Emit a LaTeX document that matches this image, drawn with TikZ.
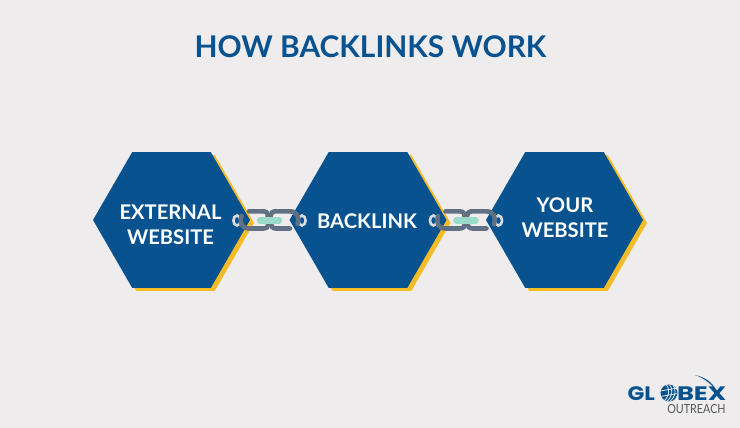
\documentclass[tikz,border=0pt]{standalone}
\usepackage{fontspec}
\usepackage{graphicx}
\setmainfont{Lato}
\newfontfamily\logofont{Poppins}
\usetikzlibrary{shapes.geometric}
\definecolor{bgc}{HTML}{EEECED}
\definecolor{navy}{HTML}{07528F}
\definecolor{gold}{HTML}{F6BC25}
\definecolor{linkc}{HTML}{5F7183}
\definecolor{tealc}{HTML}{9ADBC9}
\definecolor{greyt}{HTML}{54575A}
\definecolor{ringc}{HTML}{D9DCDF}
\tikzset{
  hexbase/.style={regular polygon,regular polygon sides=6,minimum size=157pt,inner sep=0pt,outer sep=0pt},
  hex/.style={hexbase,fill=navy},
  hexshadow/.style={hexbase,fill=gold},
  linkline/.style={draw=linkc,line width=4.6pt,line cap=round},
  ringline/.style={draw=ringc,line width=2.6pt},
  bar/.style={draw=tealc,line width=6.4pt,line cap=round},
  lbl/.style={inner sep=0pt,outer sep=0pt},
  hextext/.style={lbl,align=center,text=white,font=\fontsize{20.2}{25}\selectfont\bfseries},
  logotext/.style={lbl,text=navy,font=\fontsize{19.5}{20}\logofont\bfseries}
}
\newcommand{\chainpic}[1]{%
  \begin{scope}[shift={(#1)}]
    \draw[ringline] (-32.5,0.5) ellipse (3.6 and 5);
    \draw[ringline] (32.5,0.5) ellipse (3.6 and 5);
    % left link
    \draw[linkline] (-20.5,-8.7) -- (-6.5,-8.7) .. controls (-2,-8.7) and (-1,-6) .. (-2,-2);
    \draw[linkline] (-28,-4) .. controls (-30,3) and (-28,8.5) .. (-20,8.5) -- (-6.5,8.5) .. controls (-3,8.5) and (-1,7) .. (-1,4);
    % right link
    \draw[linkline] (20.5,8.5) -- (6.5,8.5) .. controls (3,8.5) and (1,6) .. (2,3);
    \draw[linkline] (28,4) .. controls (30,-3) and (28,-8.7) .. (20,-8.7) -- (6.5,-8.7) .. controls (3,-8.7) and (1,-7) .. (1,-4);
    \draw[bar] (-9.5,0.5) -- (9.5,0.5);
  \end{scope}}
\begin{document}
\begin{tikzpicture}[x=1pt,y=-1pt]
\useasboundingbox (0,0) rectangle (740,428);
\fill[bgc] (0,0) rectangle (740,428);
\node[lbl,text=navy,font=\fontsize{29.9}{32}\selectfont\bfseries] (title) at (370.5,47) {HOW BACKLINKS WORK};
\foreach \cx/\nm in {171.5/a,368/b,564.5/c}{
  \node[hexshadow] (s\nm) at (\cx+4,223) {};
}
\node[hex] (h1) at (171.5,220) {};
\node[hex] (h2) at (368,220) {};
\node[hex] (h3) at (564.5,220) {};
\node[hextext] (t1) at (170.5,224.5) {EXTERNAL\\WEBSITE};
\node[hextext] (t2) at (367,221) {BACKLINK};
\node[hextext] (t3) at (565,217.5) {YOUR\\WEBSITE};
\chainpic{269.5,220}
\chainpic{466,220}
% logo
\node[logotext,anchor=west] (g1) at (627.5,393.5) {\scalebox{1.13}[1]{GL}};
\node[logotext,anchor=west] (g2) at (677,393.5) {\scalebox{1.32}[1]{BEX}};
\node[lbl,text=greyt,font=\fontsize{12.5}{13}\selectfont] (g3) at (696.5,409.5) {\scalebox{0.86}[1]{OUTREACH}};
\begin{scope}
  \clip (669,393) circle (8.5);
  \fill[navy] (669,393) circle (8.5);
  \foreach \d in {0,3.2,6.4}{\draw[bgc,line width=.8pt] (666+\d,384) .. controls (670+\d,389) and (670+\d,396) .. (663+\d,402);}
  \draw[bgc,line width=.8pt] (660,391) -- (678,388);
  \draw[bgc,line width=.8pt] (660,396.5) -- (678,393.5);
\end{scope}
\fill[navy] (695,375) .. controls (705,377) and (713,383) .. (716,390) .. controls (711,384) and (704,378) .. (695,375) -- cycle;
\end{tikzpicture}
\end{document}
